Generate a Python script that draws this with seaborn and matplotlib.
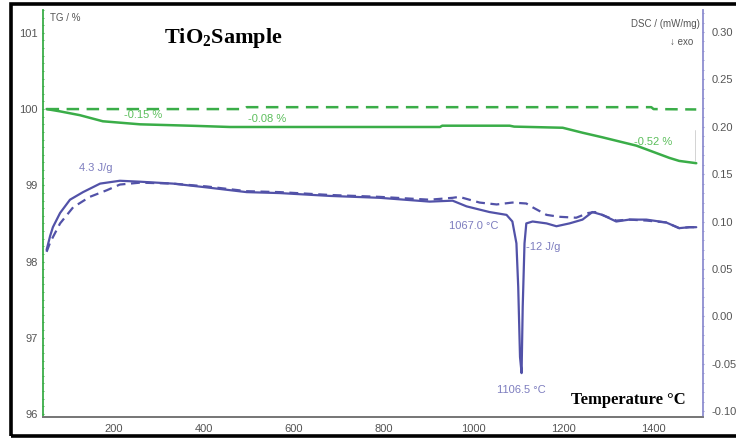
import numpy as np
import pandas as pd
import matplotlib
matplotlib.use("Agg")
import matplotlib.pyplot as plt
import seaborn as sns
from matplotlib.ticker import MultipleLocator
from matplotlib.patches import Rectangle

# ---------------- data ----------------
tg_temp = [50, 80, 124, 175, 258, 380, 458, 613, 925, 930, 1080, 1090, 1198, 1242, 1286, 1362, 1435, 1457, 1495]
tg_val = [100.0, 99.97, 99.92, 99.84, 99.80, 99.78, 99.765, 99.765, 99.765, 99.782, 99.782, 99.77, 99.755, 99.69, 99.63, 99.52, 99.36, 99.32, 99.29]

tg_ref_temp = [50, 490, 495, 1395, 1400, 1495]
tg_ref_val = [100.0, 100.0, 100.025, 100.025, 100.0, 99.995]

dsc_temp = [50, 58, 64, 80, 102, 131, 169, 213, 258, 331, 406, 495, 569, 680, 791, 902, 953,
            984, 1035, 1073, 1086, 1095, 1099, 1103, 1106.5, 1109, 1113, 1117, 1131, 1162, 1184,
            1213, 1242, 1264, 1286, 1317, 1346, 1384, 1428, 1457, 1480, 1495]
dsc_val = [0.070, 0.085, 0.094, 0.109, 0.123, 0.131, 0.140, 0.143, 0.142, 0.140, 0.136, 0.131,
           0.130, 0.127, 0.125, 0.121, 0.122, 0.116, 0.110, 0.107, 0.100, 0.077, 0.031, -0.043,
           -0.060, 0.010, 0.077, 0.098, 0.100, 0.098, 0.095, 0.098, 0.102, 0.110, 0.107, 0.100,
           0.102, 0.102, 0.099, 0.093, 0.094, 0.094]

dsc_ref_temp = [50, 58, 80, 109, 146, 184, 213, 258, 331, 406, 495, 569, 680, 791, 902, 953, 968,
                1013, 1051, 1086, 1117, 1131, 1162, 1190, 1228, 1255, 1270, 1317, 1346, 1384,
                1428, 1457, 1480, 1495]
dsc_ref_val = [0.068, 0.078, 0.098, 0.115, 0.126, 0.133, 0.139, 0.141, 0.140, 0.137, 0.132, 0.131,
               0.128, 0.126, 0.123, 0.125, 0.126, 0.120, 0.118, 0.120, 0.119, 0.115, 0.107, 0.105,
               0.104, 0.109, 0.110, 0.101, 0.102, 0.101, 0.099, 0.093, 0.094, 0.094]

x_ticks = [200, 400, 600, 800, 1000, 1200, 1400]
tg_ticks = [96, 97, 98, 99, 100, 101]
dsc_ticks = [-0.10, -0.05, 0.00, 0.05, 0.10, 0.15, 0.20, 0.25, 0.30]

# ---------------- style ----------------
sns.set_style("white")
plt.rcParams['font.family'] = ['Liberation Sans', 'DejaVu Sans']
plt.rcParams['mathtext.fontset'] = 'custom'
plt.rcParams['mathtext.rm'] = 'Liberation Serif'
plt.rcParams['mathtext.bf'] = 'Liberation Serif:bold'

GREEN = "#3aad48"
GREEN_TXT = "#5cbf5c"
PURPLE = "#5252a8"
PURPLE_TXT = "#7d7dbf"
PURPLE_AX = "#8e8ed0"
GRAY = "#555555"

fig = plt.figure(figsize=(7.36, 4.40), dpi=100)
ax = fig.add_axes([43 / 736, 23 / 440, 660 / 736, 407 / 440])
ax2 = ax.twinx()

df_tg = pd.DataFrame({"T": tg_temp, "v": tg_val})
df_tgr = pd.DataFrame({"T": tg_ref_temp, "v": tg_ref_val})
df_d = pd.DataFrame({"T": dsc_temp, "v": dsc_val})
df_dr = pd.DataFrame({"T": dsc_ref_temp, "v": dsc_ref_val})

sns.lineplot(data=df_tg, x="T", y="v", ax=ax, color=GREEN, lw=1.8, sort=False)
sns.lineplot(data=df_tgr, x="T", y="v", ax=ax, color=GREEN, lw=1.8, sort=False)
ax.lines[-1].set_dashes((5, 3))

sns.lineplot(data=df_d, x="T", y="v", ax=ax2, color=PURPLE, lw=1.6, sort=False)
sns.lineplot(data=df_dr, x="T", y="v", ax=ax2, color=PURPLE, lw=1.6, sort=False)
ax2.lines[-1].set_dashes((4, 2.5))

ax.set_xlim(42, 1510)
ax.set_ylim(95.96, 101.3)
ax2.set_ylim(-0.1063, 0.3232)

ax.set_xticks(x_ticks)
ax.set_yticks(tg_ticks)
ax2.set_yticks(dsc_ticks)
ax.set_xticklabels([str(t) for t in x_ticks])
ax.set_yticklabels([str(t) for t in tg_ticks])
ax2.set_yticklabels(["%.2f" % t for t in dsc_ticks])
ax.xaxis.set_minor_locator(MultipleLocator(100))
ax.yaxis.set_minor_locator(MultipleLocator(0.1))
ax2.yaxis.set_minor_locator(MultipleLocator(0.01))

for a in (ax, ax2):
    a.set_xlabel("")
    a.set_ylabel("")
    a.spines["top"].set_visible(False)
    a.spines["bottom"].set_color("#777777")
    a.spines["left"].set_color(GREEN)
    a.spines["right"].set_color(PURPLE_AX)
    a.spines["left"].set_linewidth(1.3)
    a.spines["right"].set_linewidth(1.3)
    a.spines["bottom"].set_linewidth(1.3)

ax2.spines["left"].set_visible(False)
ax.spines["right"].set_visible(False)

ax.tick_params(axis="x", which="major", length=2, direction="out", labelsize=8, labelcolor=GRAY, color="#777777", pad=3)
ax.tick_params(axis="x", which="minor", length=1.5, direction="out", color="#777777")
ax.tick_params(axis="y", which="major", length=2, direction="inout", labelsize=8, labelcolor=GRAY, color=GREEN, pad=3)
ax.tick_params(axis="y", which="minor", length=1.5, direction="inout", color=GREEN)
ax2.tick_params(axis="y", which="major", length=2, direction="inout", labelsize=8, labelcolor=GRAY, color=PURPLE_AX, pad=5)
ax2.tick_params(axis="y", which="minor", length=1.2, direction="inout", color=PURPLE_AX)

# axis titles inside
ax.text(57, 101.2, "TG / %", fontsize=7, color=GRAY, ha="left", va="center")
ax2.text(1502, 0.308, "DSC / (mW/mg)", fontsize=7, color=GRAY, ha="right", va="center")
ax2.text(1488, 0.289, "↓ exo", fontsize=7, color=GRAY, ha="right", va="center")

# title and x label
ax.text(443, 100.93, r"TiO$_\mathbf{2}$Sample", fontsize=16, fontweight="bold", family="Liberation Serif",
        ha="center", va="center", color="black")
ax.text(1343, 96.18, "Temperature °C", fontsize=12, fontweight="bold", family="Liberation Serif",
        ha="center", va="center", color="black")

# TG annotations
ax.text(265, 99.92, "-0.15 %", fontsize=8, color=GREEN_TXT, ha="center", va="center")
ax.text(540, 99.87, "-0.08 %", fontsize=8, color=GREEN_TXT, ha="center", va="center")
ax.text(1400, 99.57, "-0.52 %", fontsize=8, color=GREEN_TXT, ha="center", va="center")
ax.plot([1493, 1493], [99.32, 99.72], color="#cccccc", lw=0.6)

# DSC annotations
ax2.text(160, 0.1565, "4.3 J/g", fontsize=8, color=PURPLE_TXT, ha="center", va="center")
ax2.text(1055, 0.095, "1067.0 °C", fontsize=8, color=PURPLE_TXT, ha="right", va="center")
ax2.text(1117, 0.0735, "-12 J/g", fontsize=8, color=PURPLE_TXT, ha="left", va="center")
ax2.text(1106.5, -0.078, "1106.5 °C", fontsize=8, color=PURPLE_TXT, ha="center", va="center")

# outer frame
fig.patches.append(Rectangle((10.5 / 736, 4.5 / 440), 740 / 736, 431 / 440, transform=fig.transFigure,
                             fill=False, edgecolor="black", lw=2.6, clip_on=False))

fig.savefig("out.png", dpi=100)
